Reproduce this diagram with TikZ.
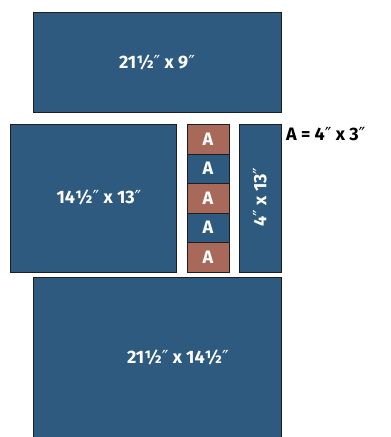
\documentclass[tikz,border=0pt]{standalone}
\usepackage{fontspec}
\setmainfont{Fira Sans}
\newfontfamily\symfont{DejaVu Sans}
\newcommand{\inch}{{\symfont\mdseries ″}}
\definecolor{pblue}{HTML}{2E5A80}
\definecolor{pred}{HTML}{A8695A}
\definecolor{pedge}{HTML}{1E1E1E}
\begin{document}
\begin{tikzpicture}[x=1pt,y=-1pt,
  piece/.style={draw=pedge,line width=0.9pt,fill=pblue},
  apiece/.style={draw=pedge,line width=0.9pt,fill=pred},
  lbl/.style={text=white,font=\fontsize{18}{20}\selectfont\bfseries,inner sep=0pt},
  note/.style={text=black,font=\fontsize{18}{20}\selectfont\bfseries,inner sep=0pt}]
\useasboundingbox (0,0) rectangle (391,437);
% top
\draw[piece] (33,12) rectangle (281,112);
\node[lbl] (top) at (157,62) {21½\inch{} x 9\inch};
% middle left
\draw[piece] (10,124) rectangle (176,272);
\node[lbl] (midl) at (99,197) {14½\inch{} x 13\inch};
% A column
\draw[apiece] (187,124) rectangle (229,154);
\node[lbl] (a1) at (208,139) {A};
\draw[piece] (187,154) rectangle (229,183);
\node[lbl] (a2) at (208,168.5) {A};
\draw[apiece] (187,183) rectangle (229,213);
\node[lbl] (a3) at (208,198) {A};
\draw[piece] (187,213) rectangle (229,242);
\node[lbl] (a4) at (208,227.5) {A};
\draw[apiece] (187,242) rectangle (229,272);
\node[lbl] (a5) at (208,257) {A};
% strip
\draw[piece] (239,124) rectangle (281,272);
\node[lbl,rotate=90] (strip) at (260,197) {4\inch{} x 13\inch};
% note
\node[note,anchor=west] (anote) at (286,134) {A = 4\inch{} x 3\inch};
% bottom
\draw[piece] (33,277) rectangle (281,440);
\node[lbl] (bot) at (178,357) {21½\inch{} x 14½\inch};
\end{tikzpicture}
\end{document}
